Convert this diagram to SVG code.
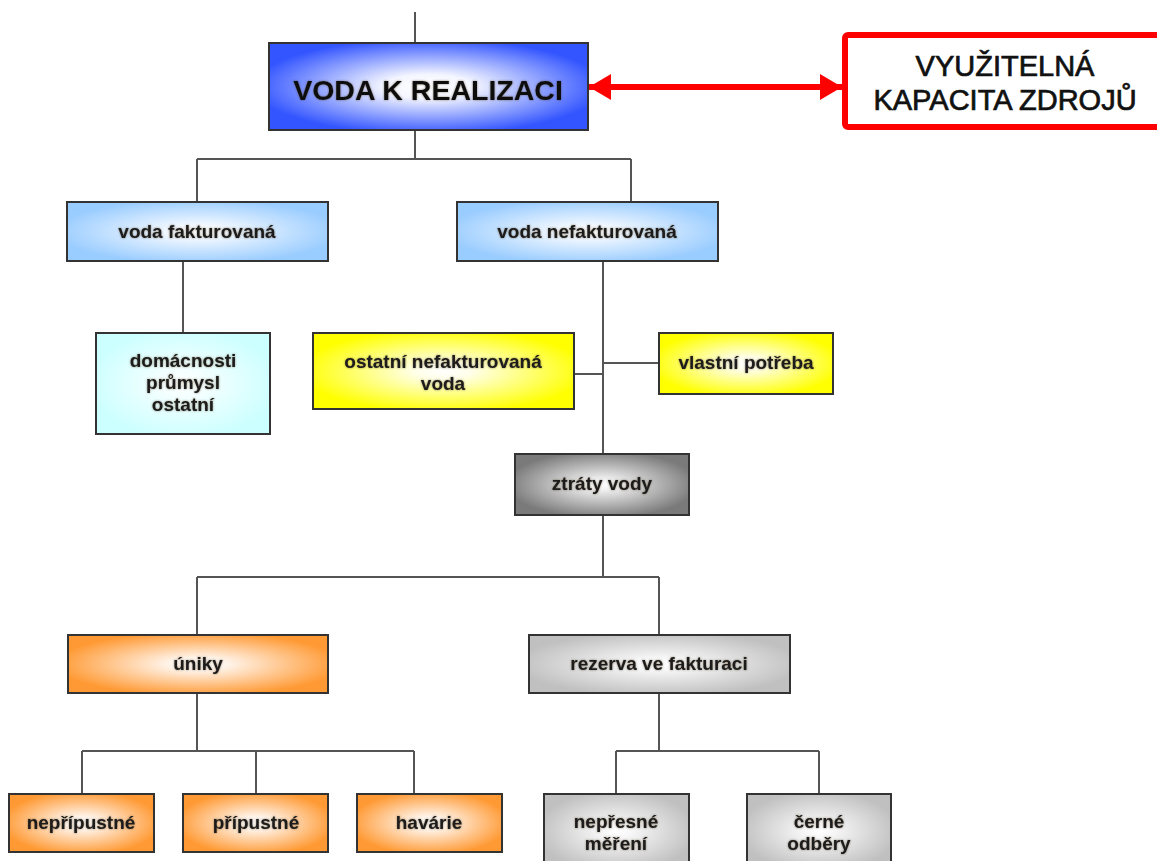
<svg xmlns="http://www.w3.org/2000/svg" width="1157" height="861" viewBox="0 0 1157 861">
<defs>
<style>
.box{stroke:#333;stroke-width:2}
.c{fill:none;stroke:#555;stroke-width:2}
.t{font-family:"Liberation Sans",Arial,sans-serif;font-weight:bold;font-size:19px;fill:#1a1a1a;text-anchor:middle;filter:url(#glow)}
.big{font-size:28.5px;fill:#111}
.red{font-family:"Liberation Sans",Arial,sans-serif;font-size:29px;fill:#111;stroke:#111;stroke-width:0.7;text-anchor:middle}
</style>
<filter id="glow" x="-10%" y="-30%" width="120%" height="160%">
<feGaussianBlur in="SourceAlpha" stdDeviation="1.2" result="b"/>
<feFlood flood-color="#3a2a10" flood-opacity="0.55"/>
<feComposite in2="b" operator="in" result="s"/>
<feMerge><feMergeNode in="s"/><feMergeNode in="SourceGraphic"/></feMerge>
</filter>
<radialGradient id="gBlue" cx="0.5" cy="0.5" r="0.55"><stop offset="0" stop-color="#fff"/><stop offset="0.25" stop-color="#f4f6ff"/><stop offset="1" stop-color="#3355ff"/></radialGradient>
<radialGradient id="gLBlue" cx="0.5" cy="0.5" r="0.55"><stop offset="0" stop-color="#fff"/><stop offset="0.2" stop-color="#f2f8ff"/><stop offset="1" stop-color="#99ccff"/></radialGradient>
<radialGradient id="gCyan" cx="0.5" cy="0.5" r="0.55"><stop offset="0" stop-color="#fff"/><stop offset="0.2" stop-color="#f6ffff"/><stop offset="1" stop-color="#ccffff"/></radialGradient>
<radialGradient id="gYel" cx="0.5" cy="0.5" r="0.55"><stop offset="0" stop-color="#fff"/><stop offset="0.2" stop-color="#ffffe8"/><stop offset="1" stop-color="#ffff00"/></radialGradient>
<radialGradient id="gDGray" cx="0.5" cy="0.5" r="0.55"><stop offset="0" stop-color="#fff"/><stop offset="0.15" stop-color="#f2f2f2"/><stop offset="1" stop-color="#7a7a7a"/></radialGradient>
<radialGradient id="gOr" cx="0.5" cy="0.5" r="0.55"><stop offset="0" stop-color="#fff"/><stop offset="0.2" stop-color="#fff4ea"/><stop offset="1" stop-color="#ff9933"/></radialGradient>
<radialGradient id="gLGray" cx="0.5" cy="0.5" r="0.55"><stop offset="0" stop-color="#fff"/><stop offset="0.2" stop-color="#f6f6f6"/><stop offset="1" stop-color="#c0c0c0"/></radialGradient>
<marker id="ah" markerUnits="userSpaceOnUse" markerWidth="24" markerHeight="26" refX="22" refY="13" orient="auto-start-reverse">
<path d="M0,0 L22,13 L0,26 Z" fill="#ff0000"/>
</marker>
</defs>
<rect width="1157" height="861" fill="#fff"/>

<g id="connectors">
<path class="c" d="M415 12V43"/>
<path class="c" d="M415 130V159M197 159H631M197 159V202M631 159V202"/>
<path class="c" d="M183 261V333"/>
<path class="c" d="M603 261V454M574 374H603M603 363H659"/>
<path class="c" d="M603 515V577M197 577H659M197 577V635M659 577V635"/>
<path class="c" d="M197 693V751M82 751H414M82 751V794M256 751V794M414 751V794"/>
<path class="c" d="M659 693V751M616 751H819M616 751V794M819 751V794"/>
<line x1="589" y1="87" x2="842" y2="87" stroke="#ff0000" stroke-width="6" marker-start="url(#ah)" marker-end="url(#ah)"/>
</g>

<g id="n-kapacita">
<rect x="845" y="35" width="330" height="92" rx="3" fill="#fff" stroke="#ff0000" stroke-width="6"/>
<text class="red" x="1005" y="76">VYUŽITELNÁ</text>
<text class="red" x="1005" y="110">KAPACITA ZDROJŮ</text>
</g>

<g id="n-voda-k-realizaci">
<rect class="box" x="269" y="43" width="319" height="87" fill="url(#gBlue)"/>
<text class="t big" x="428" y="100">VODA K REALIZACI</text>
</g>

<g id="n-voda-fakturovana">
<rect class="box" x="67" y="202" width="261" height="59" fill="url(#gLBlue)"/>
<text class="t" x="197" y="238">voda fakturovaná</text>
</g>

<g id="n-voda-nefakturovana">
<rect class="box" x="457" y="202" width="261" height="59" fill="url(#gLBlue)"/>
<text class="t" x="587" y="238">voda nefakturovaná</text>
</g>

<g id="n-domacnosti">
<rect class="box" x="96" y="333" width="174" height="101" fill="url(#gCyan)"/>
<text class="t" x="183" y="367">domácnosti</text>
<text class="t" x="183" y="389">průmysl</text>
<text class="t" x="183" y="411">ostatní</text>
</g>

<g id="n-ostatni">
<rect class="box" x="313" y="333" width="261" height="76" fill="url(#gYel)"/>
<text class="t" x="443" y="368">ostatní nefakturovaná</text>
<text class="t" x="443" y="390">voda</text>
</g>

<g id="n-vlastni">
<rect class="box" x="659" y="333" width="174" height="61" fill="url(#gYel)"/>
<text class="t" x="746" y="369">vlastní potřeba</text>
</g>

<g id="n-ztraty">
<rect class="box" x="515" y="454" width="174" height="61" fill="url(#gDGray)"/>
<text class="t" x="602" y="490">ztráty vody</text>
</g>

<g id="n-uniky">
<rect class="box" x="68" y="635" width="260" height="58" fill="url(#gOr)"/>
<text class="t" x="198" y="670">úniky</text>
</g>

<g id="n-rezerva">
<rect class="box" x="529" y="635" width="261" height="58" fill="url(#gLGray)"/>
<text class="t" x="659" y="670">rezerva ve fakturaci</text>
</g>

<g id="n-nepripustne">
<rect class="box" x="9" y="794" width="145" height="58" fill="url(#gOr)"/>
<text class="t" x="81" y="829">nepřípustné</text>
</g>

<g id="n-pripustne">
<rect class="box" x="183" y="794" width="145" height="58" fill="url(#gOr)"/>
<text class="t" x="256" y="829">přípustné</text>
</g>

<g id="n-havarie">
<rect class="box" x="357" y="794" width="145" height="58" fill="url(#gOr)"/>
<text class="t" x="429" y="829">havárie</text>
</g>

<g id="n-nepresne">
<rect class="box" x="544" y="794" width="145" height="74" fill="url(#gLGray)"/>
<text class="t" x="616" y="828">nepřesné</text>
<text class="t" x="616" y="850">měření</text>
</g>

<g id="n-cerne">
<rect class="box" x="747" y="794" width="144" height="74" fill="url(#gLGray)"/>
<text class="t" x="819" y="828">černé</text>
<text class="t" x="819" y="850">odběry</text>
</g>
</svg>
